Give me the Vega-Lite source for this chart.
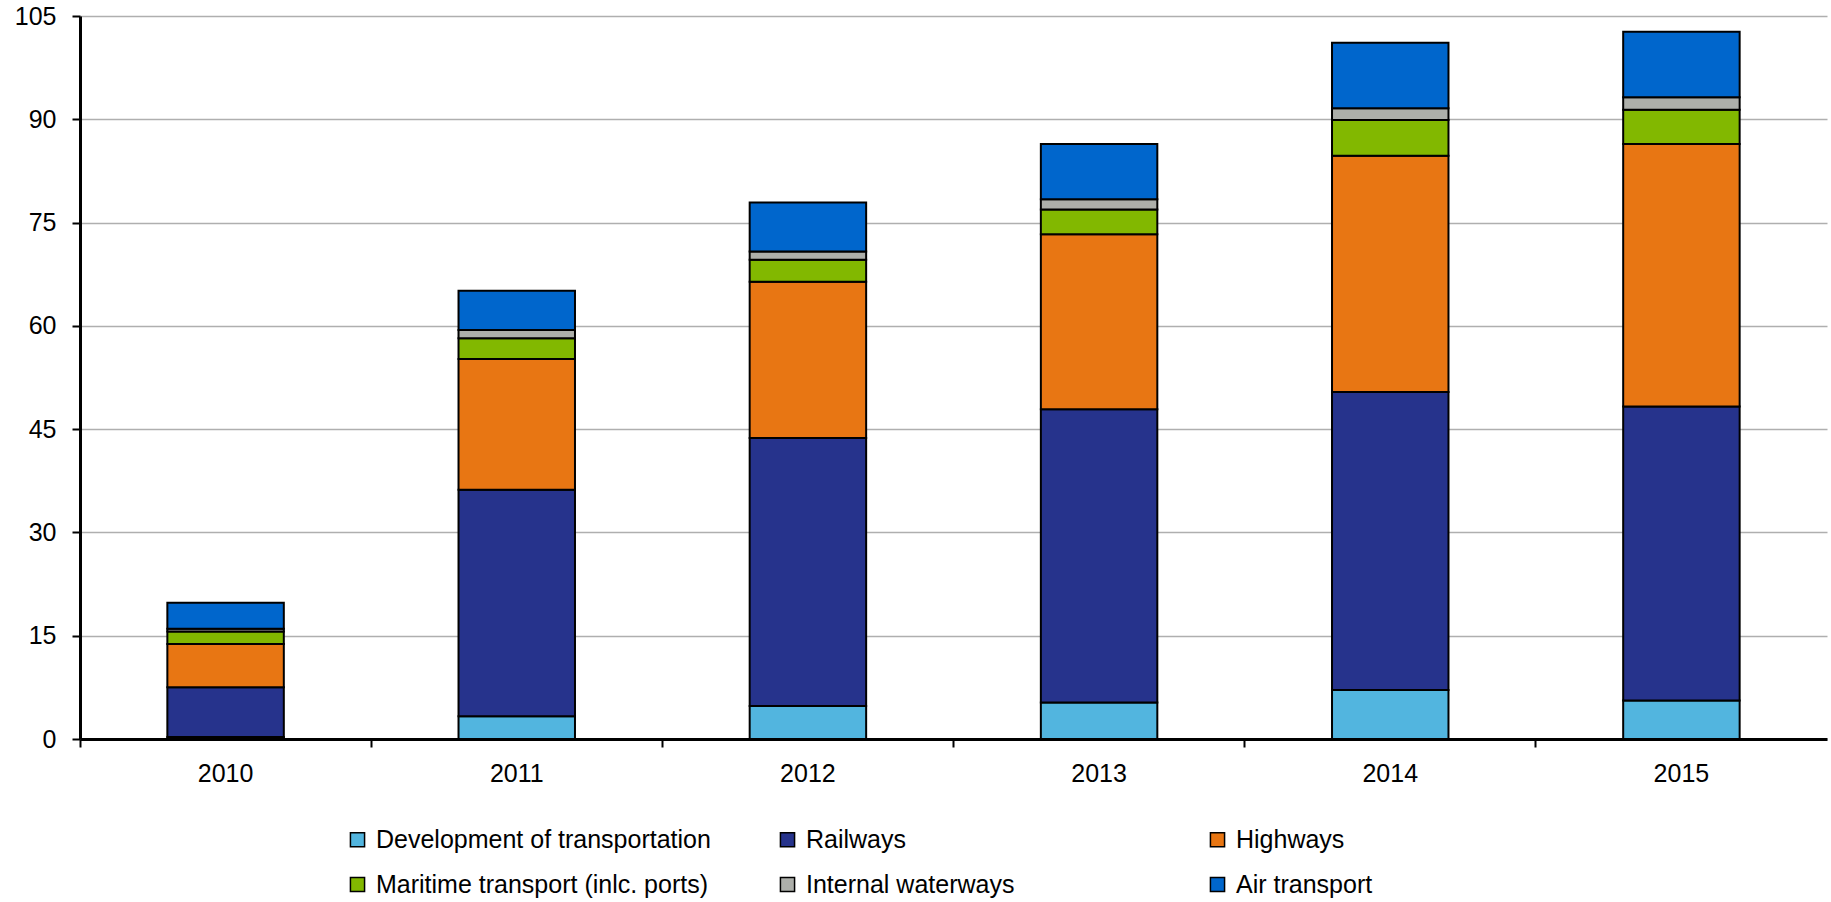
{
  "$schema": "https://vega.github.io/schema/vega-lite/v6.json",
  "width": 1747,
  "height": 723,
  "autosize": {"type": "none"},
  "padding": {"left": 80, "top": 16, "right": 4, "bottom": 163},
  "background": "white",
  "config": {
    "font": "Liberation Sans",
    "view": {"stroke": null}
  },
  "datasets": {
    "catorder": [
      {"cat": "Development of transportation", "rank": 1},
      {"cat": "Railways", "rank": 2},
      {"cat": "Highways", "rank": 3},
      {"cat": "Maritime transport (inlc. ports)", "rank": 4},
      {"cat": "Internal waterways", "rank": 5},
      {"cat": "Air transport", "rank": 6}
    ]
  },
  "data": {
    "values": [
      {"year": "2010", "cat": "Development of transportation", "value": 0.3},
      {"year": "2010", "cat": "Railways", "value": 7.2},
      {"year": "2010", "cat": "Highways", "value": 6.3},
      {"year": "2010", "cat": "Maritime transport (inlc. ports)", "value": 1.8},
      {"year": "2010", "cat": "Internal waterways", "value": 0.4},
      {"year": "2010", "cat": "Air transport", "value": 3.8},
      {"year": "2011", "cat": "Development of transportation", "value": 3.3},
      {"year": "2011", "cat": "Railways", "value": 32.9},
      {"year": "2011", "cat": "Highways", "value": 19.0},
      {"year": "2011", "cat": "Maritime transport (inlc. ports)", "value": 3.0},
      {"year": "2011", "cat": "Internal waterways", "value": 1.2},
      {"year": "2011", "cat": "Air transport", "value": 5.7},
      {"year": "2012", "cat": "Development of transportation", "value": 4.8},
      {"year": "2012", "cat": "Railways", "value": 38.9},
      {"year": "2012", "cat": "Highways", "value": 22.7},
      {"year": "2012", "cat": "Maritime transport (inlc. ports)", "value": 3.2},
      {"year": "2012", "cat": "Internal waterways", "value": 1.2},
      {"year": "2012", "cat": "Air transport", "value": 7.1},
      {"year": "2013", "cat": "Development of transportation", "value": 5.3},
      {"year": "2013", "cat": "Railways", "value": 42.6},
      {"year": "2013", "cat": "Highways", "value": 25.4},
      {"year": "2013", "cat": "Maritime transport (inlc. ports)", "value": 3.6},
      {"year": "2013", "cat": "Internal waterways", "value": 1.5},
      {"year": "2013", "cat": "Air transport", "value": 8.0},
      {"year": "2014", "cat": "Development of transportation", "value": 7.1},
      {"year": "2014", "cat": "Railways", "value": 43.3},
      {"year": "2014", "cat": "Highways", "value": 34.3},
      {"year": "2014", "cat": "Maritime transport (inlc. ports)", "value": 5.2},
      {"year": "2014", "cat": "Internal waterways", "value": 1.7},
      {"year": "2014", "cat": "Air transport", "value": 9.5},
      {"year": "2015", "cat": "Development of transportation", "value": 5.6},
      {"year": "2015", "cat": "Railways", "value": 42.7},
      {"year": "2015", "cat": "Highways", "value": 38.1},
      {"year": "2015", "cat": "Maritime transport (inlc. ports)", "value": 5.0},
      {"year": "2015", "cat": "Internal waterways", "value": 1.8},
      {"year": "2015", "cat": "Air transport", "value": 9.5}
    ]
  },
  "transform": [
    {"lookup": "cat", "from": {"data": {"name": "catorder"}, "key": "cat", "fields": ["rank"]}}
  ],
  "mark": {"type": "bar", "width": {"band": 0.4}, "stroke": "black", "strokeWidth": 2},
  "encoding": {
    "x": {
      "field": "year",
      "type": "nominal",
      "scale": {"paddingInner": 0, "paddingOuter": 0},
      "axis": {
        "title": null,
        "labelAngle": 0,
        "labelFontSize": 25,
        "labelColor": "black",
        "labelPadding": 14,
        "domainColor": "black",
        "domainWidth": 3,
        "tickColor": "black",
        "tickWidth": 2,
        "tickSize": 8,
        "bandPosition": 0,
        "grid": false
      }
    },
    "y": {
      "field": "value",
      "type": "quantitative",
      "stack": "zero",
      "scale": {"domain": [0, 105], "nice": false},
      "axis": {
        "title": null,
        "values": [0, 15, 30, 45, 60, 75, 90, 105],
        "labelFontSize": 25,
        "labelColor": "black",
        "labelPadding": 16,
        "domainColor": "black",
        "domainWidth": 3,
        "tickColor": "black",
        "tickWidth": 2,
        "tickSize": 8,
        "grid": true,
        "gridColor": "#AFAFAF",
        "gridWidth": 1.5
      }
    },
    "order": {"field": "rank", "type": "quantitative", "sort": "ascending"},
    "color": {
      "field": "cat",
      "type": "nominal",
      "scale": {
        "domain": ["Development of transportation", "Railways", "Highways", "Maritime transport (inlc. ports)", "Internal waterways", "Air transport"],
        "range": ["#52B5DF", "#26338C", "#E87613", "#82B800", "#ADAFAA", "#0066CC"]
      },
      "legend": {
        "title": null,
        "orient": "none",
        "legendX": 265,
        "legendY": 811,
        "direction": "horizontal",
        "columns": 3,
        "gridAlign": "all",
        "columnPadding": 64,
        "rowPadding": 19,
        "padding": 0,
        "symbolType": "square",
        "symbolSize": 200,
        "symbolStrokeColor": "black",
        "symbolStrokeWidth": 1.5,
        "labelFontSize": 25,
        "labelColor": "black",
        "labelOffset": 6,
        "labelLimit": 500
      }
    }
  }
}
